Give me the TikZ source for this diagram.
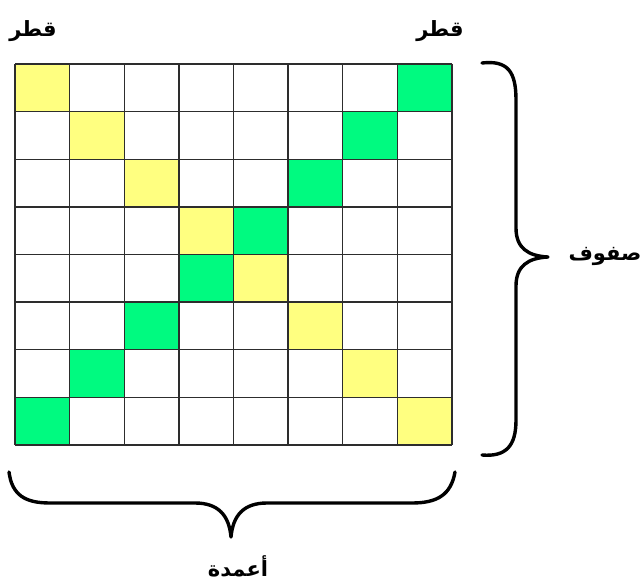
\documentclass[tikz,border=0pt]{standalone}
\usepackage{fontspec}
\TeXXeTstate=1
\newfontfamily\arabicfont[Script=Arabic]{DejaVu Sans}
\definecolor{cellyellow}{RGB}{255,255,128}
\definecolor{cellgreen}{RGB}{0,250,128}
\definecolor{gridline}{RGB}{45,45,45}
\begin{document}
\begin{tikzpicture}[x=1pt,y=-1pt,
  lbl/.style={font=\arabicfont\bfseries\fontsize{21}{24}\selectfont, inner sep=0pt},
  bracestroke/.style={line width=3.4pt, line cap=round, line join=round},
  cellline/.style={draw=gridline, line width=1.4pt}]
\useasboundingbox (0,0) rectangle (642,583);
\def\gx{15}\def\gy{64}\def\cw{54.625}\def\ch{47.625}
\foreach \i in {0,...,7}{
  \pgfmathsetmacro{\xa}{\gx+\i*\cw}\pgfmathsetmacro{\ya}{\gy+\i*\ch}
  \fill[cellyellow] (\xa,\ya) rectangle ++(\cw,\ch);
  \pgfmathsetmacro{\xb}{\gx+(7-\i)*\cw}
  \fill[cellgreen] (\xb,\ya) rectangle ++(\cw,\ch);
}
\foreach \i in {0,...,8}{
  \pgfmathsetmacro{\xx}{\gx+\i*\cw}\pgfmathsetmacro{\yy}{\gy+\i*\ch}
  \draw[cellline] (\xx,\gy) -- (\xx,445);
  \draw[cellline] (\gx,\yy) -- (452,\yy);
}
% right brace
\draw[bracestroke] (482,63) .. controls (508,60) and (516,72) .. (516,100)
  -- (516,228) .. controls (516,248) and (528,256) .. (548,257)
  .. controls (528,258) and (516,266) .. (516,286)
  -- (516,420) .. controls (516,446) and (506,457) .. (482,455);
% bottom brace
\draw[bracestroke] (9,472) .. controls (12,495) and (25,503) .. (50,503)
  -- (195,503) .. controls (218,503) and (229,515) .. (231,537)
  .. controls (233,515) and (244,503) .. (267,503)
  -- (412,503) .. controls (437,503) and (451,495) .. (455,472);
\node[lbl] (diagL) at (33,31) {\beginR قطر\endR};
\node[lbl] (diagR) at (440,31) {\beginR قطر\endR};
\node[lbl] (rows) at (605,256) {\beginR صفوف\endR};
\node[lbl] (cols) at (238,566) {\beginR أعمدة\endR};
\end{tikzpicture}
\end{document}
